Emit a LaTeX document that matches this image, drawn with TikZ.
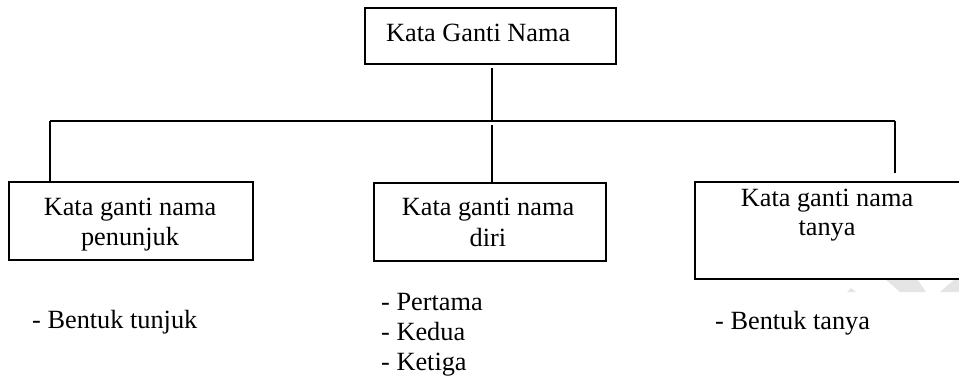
\documentclass[tikz,border=0pt]{standalone}
\usepackage{fontspec}
\setmainfont{Liberation Serif}
\begin{document}
\begin{tikzpicture}[x=1pt,y=-1pt,
  box/.style={draw=black,line width=1.7pt,fill=white,inner sep=0pt},
  lbl/.style={inner sep=0pt,font=\fontsize{26.3}{30}\selectfont},
  conn/.style={draw=black,line width=1.6pt},
  wmark/.style={fill=black!10,draw=none}]
\useasboundingbox (0,0) rectangle (959,377);
% faint watermark
\fill[wmark] (847,292) -- (851,288) -- (856,292) -- cycle;
\fill[wmark] (885,279) -- (917,279) -- (926,292) -- (900,292) -- cycle;
\fill[wmark] (940,292) -- (955,279) -- (959,279) -- (959,292) -- cycle;
% boxes
\node[box,anchor=north west,minimum width=251pt,minimum height=56pt] (top) at (364,7) {};
\node[box,anchor=north west,minimum width=244pt,minimum height=78pt] (lb) at (8,181) {};
\node[box,anchor=north west,minimum width=232pt,minimum height=78pt] (mb) at (373,182) {};
\node[box,anchor=north west,minimum width=270pt,minimum height=97pt] (rb) at (694,181) {};
% box texts
\node[lbl,anchor=base west] (toptxt) at (386,42) {Kata Ganti Nama};
\node[lbl,anchor=base] (lt1) at (130,215) {Kata ganti nama};
\node[lbl,anchor=base] (lt2) at (130,245) {penunjuk};
\node[lbl,anchor=base] (mt1) at (488,215) {Kata ganti nama};
\node[lbl,anchor=base] (mt2) at (488,246) {diri};
\node[lbl,anchor=base] (rt1) at (827,206) {Kata ganti nama};
\node[lbl,anchor=base] (rt2) at (827,235) {tanya};
% lists
\node[lbl,anchor=base west] (l1) at (32,328) {- Bentuk tunjuk};
\node[lbl,anchor=base west] (m1) at (381,310) {- Pertama};
\node[lbl,anchor=base west] (m2) at (381,340) {- Kedua};
\node[lbl,anchor=base west] (m3) at (381,370) {- Ketiga};
\node[lbl,anchor=base west] (r1) at (715,329) {- Bentuk tanya};
% connectors
\coordinate (ts) at (492,68);
\coordinate (jm) at (492,121);
\coordinate (jl) at (50,121);
\coordinate (jr) at (895,121);
\coordinate (ms) at (492,125);
\coordinate (re) at (895,173);
\draw[conn] (ts) -- (jm);
\draw[conn] (jl) -- (jr);
\draw[conn] (jl) -- (jl |- lb.north);
\draw[conn] (ms) -- (ms |- mb.north);
\draw[conn] (jr) -- (re);
\end{tikzpicture}
\end{document}
